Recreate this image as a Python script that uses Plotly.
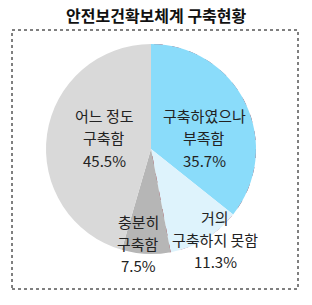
import numpy as np
import plotly.graph_objects as go

title = "안전보건확보체계 구축현황"
labels = ["구축하였으나<br>부족함", "거의<br>구축하지 못함", "충분히<br>구축함", "어느 정도<br>구축함"]
values = [35.7, 11.3, 7.5, 45.5]
colors = ["#8adcfa", "#def3fc", "#b6b6b6", "#d9d9d9"]
highlighted = [0, 1]

W, H = 312, 305
cx, cy, R = 151, 149, 105
dom_x = [(cx - R) / W, (cx + R) / W]
dom_y = [(H - cy - R) / H, (H - cy + R) / H]

fig = go.Figure()
fig.add_trace(go.Pie(
    labels=labels, values=values, sort=False, direction="clockwise", rotation=0,
    marker=dict(colors=colors, line=dict(width=0)),
    textinfo="none", hoverinfo="label+percent", showlegend=False,
    domain=dict(x=dom_x, y=dom_y),
))

# dashed outline around highlighted slices
total = sum(values)
end_angle = 360 * sum(values[i] for i in highlighted) / total
arc = np.linspace(0, end_angle, 120)
theta = np.concatenate([[0], arc, [end_angle]])
r = np.concatenate([[0], np.ones_like(arc), [0]])
fig.add_trace(go.Scatterpolar(
    r=r, theta=theta, mode="lines",
    line=dict(color="#a51d2d", width=2, dash="dash"),
    hoverinfo="skip", showlegend=False,
))

fig.update_layout(
    width=W, height=H, margin=dict(l=0, r=0, t=0, b=0),
    paper_bgcolor="white", plot_bgcolor="white",
    font=dict(family="Noto Sans CJK KR", color="#222222"),
    polar=dict(
        domain=dict(x=dom_x, y=dom_y), bgcolor="rgba(0,0,0,0)",
        radialaxis=dict(range=[0, 1], visible=False),
        angularaxis=dict(visible=False, rotation=90, direction="clockwise"),
    ),
    shapes=[dict(type="rect", xref="paper", yref="paper",
                 x0=12 / W, x1=298 / W, y0=1 - 289 / H, y1=1 - 30 / H,
                 line=dict(color="black", width=1, dash="dot"))],
)

fig.add_annotation(text="<b>" + title + "</b>", x=0.5, y=1 - 15 / H, xref="paper", yref="paper",
                   xanchor="center", yanchor="middle",
                   showarrow=False, font=dict(size=16, color="#111111"))

pos = [(204, 138), (215, 239), (138, 243), (104, 138)]
line_gap = 22
for lab, v, (px, py) in zip(labels, values, pos):
    lines = lab.split("<br>") + [f"{v:.1f}%"]
    n = len(lines)
    for k, t in enumerate(lines):
        ly = py + (k - (n - 1) / 2) * line_gap
        fig.add_annotation(text=t, x=px / W, y=1 - ly / H,
                           xref="paper", yref="paper", showarrow=False,
                           xanchor="center", yanchor="middle",
                           font=dict(size=15, color="#222222"))

fig.write_html("out.html")
